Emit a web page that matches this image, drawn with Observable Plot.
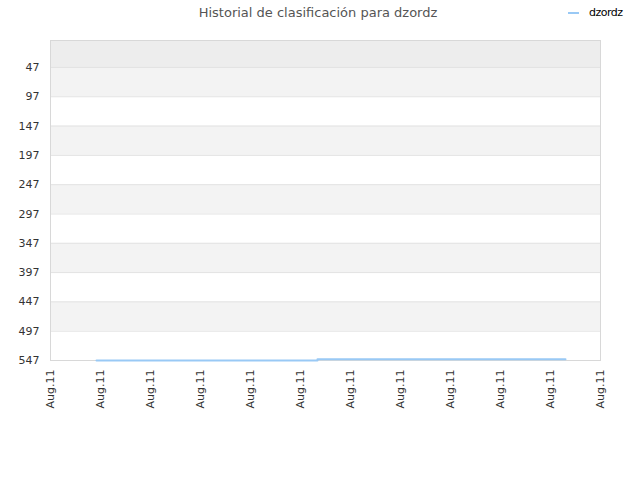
<!DOCTYPE html>
<html><head><meta charset="utf-8">
<script src="https://cdn.jsdelivr.net/npm/d3@7"></script>
<script src="https://cdn.jsdelivr.net/npm/@observablehq/plot@0.6"></script>
<style>
body{margin:0;background:#fff;font-family:"DejaVu Sans",sans-serif;}
#wrap{position:relative;width:640px;height:480px;}
#title{position:absolute;left:0;top:5px;width:636px;text-align:center;font-size:13px;color:#555;}
#legend{position:absolute;left:568px;top:6px;font-size:11px;color:#000;display:flex;align-items:center;}
#legend span.sw{display:inline-block;width:11px;height:2px;background:#99c9f5;margin-right:10px;}
#chart{position:absolute;left:0;top:30px;}
</style></head>
<body><div id="wrap">
<div id="title">Historial de clasificación para dzordz</div>
<div id="legend"><span class="sw"></span><span style="letter-spacing:-0.5px">dzordz</span></div>
<div id="chart"></div>
</div>
<script>
const seriesName = "dzordz";
const xPos = [0.92, 1.65, 1.82, 5.34, 5.34, 7.78, 7.88, 8.83, 10.3];
const ranks = [547, 547, 547, 547, 545, 545, 545, 545, 545];
const yTicks = [47, 97, 147, 197, 247, 297, 347, 397, 447, 497, 547];
const xTicks = [0,1,2,3,4,5,6,7,8,9,10,11];
const xTickLabel = "Aug.11";
const bandEdges = [1, 47, 97, 147, 197, 247, 297, 347, 397, 447, 497, 547];
const bandFills = ["#ededed", "#f3f3f3", "#ffffff", "#f3f3f3", "#ffffff", "#f3f3f3", "#ffffff", "#f3f3f3", "#ffffff", "#f3f3f3", "#ffffff"];

const bands = bandFills.map((f, i) => ({y1: bandEdges[i], y2: bandEdges[i+1], fill: f}));
const data = xPos.map((x, i) => ({x, rank: ranks[i]}));

const plot = Plot.plot({
  width: 640, height: 450,
  marginTop: 10, marginLeft: 50, marginRight: 40, marginBottom: 120,
  style: {fontFamily: "DejaVu Sans, sans-serif", fontSize: "11px", color: "#333", background: "transparent"},
  x: {domain: [0, 11], ticks: xTicks, tickFormat: () => xTickLabel, tickRotate: -90, tickSize: 0, tickPadding: 9, label: null},
  y: {domain: [1, 547], reverse: true, ticks: yTicks, tickSize: 0, tickPadding: 11, label: null},
  marks: [
    Plot.rectY(bands, {x1: 0, x2: 11, y1: "y1", y2: "y2", fill: d => d.fill}),
    Plot.ruleY(yTicks, {stroke: "#e2e2e2", strokeWidth: 1}),
    Plot.frame({stroke: "#d8d8d8"}),
    Plot.line(data, {x: "x", y: "rank", stroke: "#99c9f5", strokeWidth: 2, curve: "step-after"})
  ]
});
document.getElementById("chart").appendChild(plot);
</script>
</body></html>
